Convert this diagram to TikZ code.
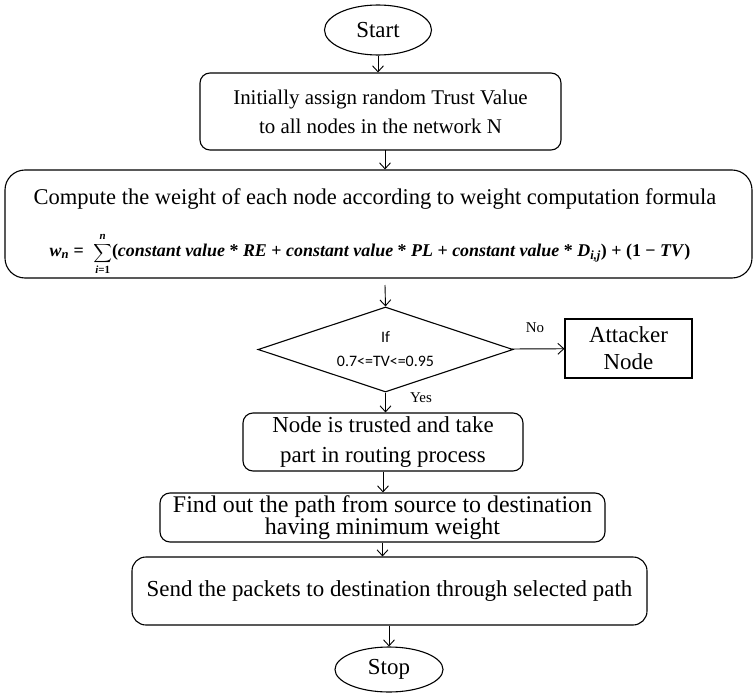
\documentclass[tikz,border=0pt]{standalone}
\usepackage{amsmath}
\usepackage{fontspec}
\setmainfont{Liberation Serif}
\newfontfamily\condfont{Carlito}
\usetikzlibrary{shapes.geometric,arrows.meta}

\newcommand{\bi}[1]{\textbf{\textit{#1}}}
\newcommand{\limtext}[1]{\text{\fontsize{11}{11}\selectfont#1}}
\newcommand{\weightformula}{%
  \bi{w}\textsubscript{\bi{n}} \textbf{=}\;
  $\mathop{\scalebox{0.75}{$\displaystyle\sum$}}\limits_{\limtext{\bi{i}\textbf{=1}}}^{\limtext{\bi{n}}}$%
  \textbf{(\textit{constant value} * \textit{RE} + \textit{constant value} * \textit{PL}
  + \textit{constant value} * \textit{D}\textsubscript{\textit{i,j}}) + (1 − \textit{TV})}}

\tikzset{
  stepbox/.style={draw, rounded corners=10bp, align=center, inner sep=0pt,
    font=\fontsize{21}{29}\selectfont},
  termbox/.style={draw, ellipse, inner sep=0pt, font=\fontsize{23}{25}\selectfont},
  flow/.style={line width=0.9bp, -{Straight Barb[length=6bp,width=11bp]}},
}

\begin{document}
\begin{tikzpicture}[x=1bp, y=-1bp, line width=1.1bp]
\useasboundingbox (0,0) rectangle (753,693);
% terminals and process steps
\node[termbox, minimum width=107bp, minimum height=50bp] (start) at (378,30) {Start};
\node[stepbox, minimum width=361bp, minimum height=77bp] (init) at (380.5,111.5)
    {Initially assign random Trust Value\\ to all nodes in the network N};
\node[stepbox, rounded corners=20bp, minimum width=747bp, minimum height=108bp] (comp) at (378.5,224) {};
\node[inner sep=0pt, font=\fontsize{22.6}{25}\selectfont] (comptxt) at (375,199)
    {Compute the weight of each node according to weight computation formula};
\node[inner sep=0pt, font=\fontsize{18}{20}\selectfont] (formula) at (370,254) {\weightformula};
\node[draw, diamond, aspect=3, inner sep=0pt, minimum width=255bp, minimum height=85bp, align=center,
      font=\condfont\fontsize{16}{24}\selectfont] (cond) at (385.5,349.5) {If\\0.7<=TV<=0.95};
\node[draw, align=center, minimum width=127bp, minimum height=59bp, inner sep=0pt,
      font=\fontsize{23}{27}\selectfont] (attack) at (628.5,348.5) {Attacker\\Node};
\node[stepbox, font=\fontsize{23}{30}\selectfont, minimum width=280bp, minimum height=58bp] (trust) at (383,442)
    {Node is trusted and take\\part in routing process};
\node[stepbox, font=\fontsize{24}{21}\selectfont, minimum width=445bp, minimum height=49bp] (find) at (382.5,517.5)
    {Find out the path from source to destination\\having minimum weight};
\node[stepbox, font=\fontsize{23}{27}\selectfont, rounded corners=14bp, minimum width=515bp, minimum height=68bp] (send) at (389.5,591)
    {Send the packets to destination through selected path};
\node[termbox, minimum width=108bp, minimum height=45bp] (stop) at (389,669.5) {Stop};
% branch labels
\node[font=\fontsize{15}{18}\selectfont] (no) at (535,328) {No};
\node[font=\fontsize{15}{18}\selectfont] (yes) at (421,398) {Yes};
% connectors
\coordinate (c1) at (385,150);
\coordinate (c2) at (385,285);
\draw[flow] (start) -- (start |- init.north);
\draw[flow] (c1) -- (c1 |- comp.north);
\draw[flow] (c2) -- (cond.north);
\draw[flow] (cond) -- (attack);
\draw[flow] (cond.south) -- (cond.south |- trust.north);
\draw[flow] (trust.south) -- (trust.south |- find.north);
\draw[flow] (find.south) -- (find.south |- send.north);
\draw[flow] (send.south -| stop) -- (stop.north);
\end{tikzpicture}
\end{document}
